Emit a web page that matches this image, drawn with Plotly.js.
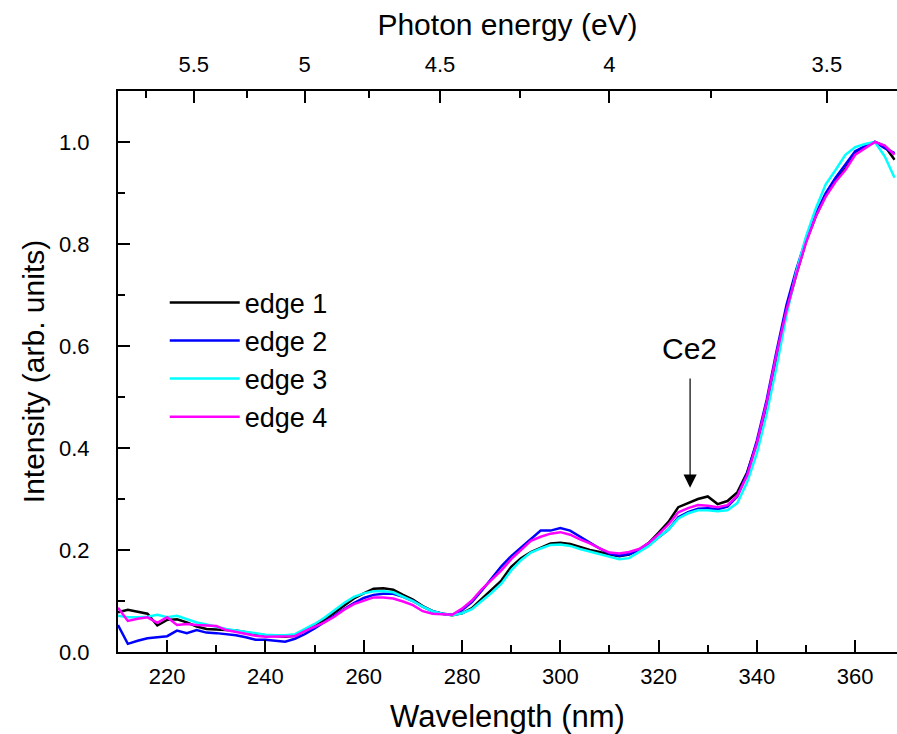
<!DOCTYPE html>
<html><head><meta charset="utf-8">
<script src="https://cdn.plot.ly/plotly-3.0.1.min.js"></script>
<style>html,body{margin:0;padding:0;background:#fff}#chart{width:897px;height:734px}</style>
</head><body><div id="chart"></div>
<script>
const wavelength = [210,212,214,216,218,220,222,224,226,228,230,232,234,236,238,240,242,244,246,248,
250,252,254,256,258,260,262,264,266,268,270,272,274,276,278,280,282,284,286,288,
290,292,294,296,298,300,302,304,306,308,310,312,314,316,318,320,322,324,326,328,
330,332,334,336,338,340,342,344,346,348,350,352,354,356,358,360,362,364,366,368];

const edge1 = [0.078,0.083,0.079,0.075,0.052,0.063,0.064,0.058,0.050,0.045,0.044,0.043,0.042,0.039,0.035,0.033,0.031,0.030,0.032,0.041,
0.051,0.063,0.077,0.091,0.105,0.115,0.124,0.125,0.122,0.112,0.103,0.090,0.080,0.075,0.072,0.076,0.086,0.104,0.122,0.140,
0.167,0.184,0.196,0.205,0.213,0.214,0.212,0.206,0.200,0.196,0.191,0.188,0.191,0.200,0.214,0.234,0.255,0.284,0.292,0.300,
0.305,0.290,0.296,0.313,0.352,0.410,0.482,0.575,0.668,0.740,0.805,0.855,0.895,0.925,0.948,0.980,0.990,1.000,0.992,0.965];

const edge2 = [0.053,0.016,0.022,0.027,0.029,0.031,0.042,0.037,0.043,0.038,0.037,0.035,0.033,0.029,0.024,0.024,0.022,0.020,0.026,0.035,
0.046,0.058,0.071,0.084,0.096,0.106,0.112,0.114,0.114,0.108,0.100,0.089,0.080,0.075,0.073,0.082,0.098,0.120,0.145,0.168,
0.188,0.205,0.222,0.238,0.238,0.243,0.238,0.226,0.215,0.203,0.193,0.189,0.192,0.200,0.210,0.225,0.240,0.264,0.274,0.281,
0.282,0.280,0.285,0.305,0.350,0.415,0.495,0.590,0.680,0.750,0.810,0.860,0.900,0.930,0.955,0.982,0.992,1.000,0.988,0.978];

const edge3 = [0.071,0.068,0.068,0.069,0.073,0.068,0.071,0.065,0.058,0.054,0.049,0.045,0.042,0.039,0.036,0.034,0.033,0.033,0.035,0.045,
0.055,0.067,0.081,0.096,0.108,0.115,0.119,0.119,0.117,0.109,0.100,0.089,0.080,0.075,0.072,0.076,0.084,0.100,0.116,0.134,
0.160,0.180,0.195,0.203,0.210,0.211,0.208,0.202,0.197,0.192,0.187,0.182,0.184,0.196,0.208,0.225,0.240,0.262,0.272,0.278,
0.278,0.276,0.278,0.292,0.333,0.390,0.468,0.560,0.660,0.745,0.815,0.870,0.917,0.945,0.975,0.990,0.996,1.000,0.972,0.930];

const edge4 = [0.087,0.061,0.065,0.068,0.057,0.068,0.053,0.055,0.053,0.052,0.051,0.043,0.039,0.036,0.032,0.030,0.030,0.030,0.031,0.041,
0.049,0.058,0.069,0.083,0.094,0.101,0.107,0.107,0.105,0.099,0.092,0.080,0.075,0.074,0.073,0.085,0.101,0.123,0.141,0.160,
0.182,0.200,0.218,0.226,0.232,0.235,0.230,0.221,0.213,0.203,0.195,0.193,0.196,0.202,0.214,0.231,0.250,0.274,0.282,0.288,
0.287,0.284,0.288,0.306,0.346,0.410,0.490,0.585,0.670,0.740,0.803,0.855,0.893,0.922,0.945,0.975,0.988,1.000,0.993,0.975];

const seriesNames = ['edge 1','edge 2','edge 3','edge 4'];
const seriesColors = ['#000000','#0000ff','#00ffff','#ff00ff'];

const wavelengthTicks = [220,240,260,280,300,320,340,360];
const wavelengthMinor = [230,250,270,290,310,330,350];
const intensityTicks = [0,0.2,0.4,0.6,0.8,1.0];
const intensityMinor = [0.1,0.3,0.5,0.7,0.9,1.1];
const energyTicks = [5.5,5,4.5,4,3.5];
const energyTickText = ['5.5','5','4.5','4','3.5'];
const energyMinor = [5.75,5.25,4.75,4.25,3.75];
const HC = 1239.84; // eV*nm

const xRange = [210, 368.5];
const yRange = [0, 1.1];

const FONT = 'Liberation Sans, Arial, Helvetica, sans-serif';

const allSeries = [edge1, edge2, edge3, edge4];
const traces = allSeries.map((ys, i) => ({
  type: 'scatter', mode: 'lines',
  x: wavelength, y: ys,
  name: seriesNames[i],
  line: {color: seriesColors[i], width: 2.5},
  xaxis: 'x', yaxis: 'y'
}));
// invisible host traces for the extra axes (top energy axis and minor-tick axes)
['x2','x3','x4'].forEach(ax => traces.push({type:'scatter', mode:'lines', x:[xRange[0], xRange[1]], y:[null,null],
  xaxis:ax, yaxis:'y', showlegend:false, hoverinfo:'skip'}));
traces.push({type:'scatter', mode:'lines', x:[null,null], y:[yRange[0], yRange[1]],
  xaxis:'x', yaxis:'y2', showlegend:false, hoverinfo:'skip'});

const tickStyle = {ticks:'inside', tickwidth: 2, tickcolor:'#000', showgrid:false, zeroline:false};
const MAJOR = 12, MINOR = 7;

const layout = {
  width: 897, height: 734,
  margin: {l:118, r:0, t:91, b:82},
  paper_bgcolor:'#fff', plot_bgcolor:'#fff',
  font: {family: FONT, color:'#000', size: 22},
  showlegend: true,
  legend: {x: 0.06, y: 0.666, xanchor:'left', yanchor:'top',
    font:{family:FONT, size:27, color:'#000'}, bgcolor:'rgba(0,0,0,0)',
    itemwidth: 70, tracegroupgap: 0},
  xaxis: Object.assign({
    range: xRange, autorange:false,
    tickmode:'array', tickvals: wavelengthTicks, ticktext: wavelengthTicks.map(String),
    ticklen: MAJOR,
    showline:true, linewidth:2, linecolor:'#000', mirror:false,
    tickfont:{family:FONT, size:22, color:'#000'},
    ticklabelstandoff: 4,
    title:{text:'Wavelength (nm)', font:{family:FONT, size:31, color:'#000'}, standoff: 18}
  }, tickStyle),
  xaxis3: Object.assign({
    overlaying:'x', side:'bottom', anchor:'y',
    range: xRange, autorange:false,
    tickmode:'array', tickvals: wavelengthMinor, ticklen: MINOR,
    showticklabels:false, showline:false
  }, tickStyle),
  xaxis2: Object.assign({
    overlaying:'x', side:'top', anchor:'y',
    range: xRange, autorange:false,
    tickmode:'array', tickvals: energyTicks.map(e => HC/e), ticktext: energyTickText,
    ticklen: MAJOR,
    showline:true, linewidth:2, linecolor:'#000',
    tickfont:{family:FONT, size:22, color:'#000'},
    ticklabelstandoff: 8,
    title:{text:'Photon energy (eV)', font:{family:FONT, size:30, color:'#000'}, standoff: 8}
  }, tickStyle),
  xaxis4: Object.assign({
    overlaying:'x', side:'top', anchor:'y',
    range: xRange, autorange:false,
    tickmode:'array', tickvals: energyMinor.map(e => HC/e), ticklen: MINOR,
    showticklabels:false, showline:false
  }, tickStyle),
  yaxis: Object.assign({
    range: yRange, autorange:false,
    tickmode:'array', tickvals: intensityTicks, ticktext: intensityTicks.map(v => v.toFixed(1)),
    ticklen: MAJOR,
    showline:true, linewidth:2, linecolor:'#000', mirror:false,
    tickfont:{family:FONT, size:22, color:'#000'},
    ticklabelstandoff: 22,
    title:{text:'Intensity (arb. units)', font:{family:FONT, size:30, color:'#000'}, standoff: 6}
  }, tickStyle),
  yaxis2: Object.assign({
    overlaying:'y', side:'left', anchor:'x',
    range: yRange, autorange:false,
    tickmode:'array', tickvals: intensityMinor, ticklen: MINOR,
    showticklabels:false, showline:false
  }, tickStyle),
  annotations: [
    {x: 326.4, y: 0.322, ax: 326.4, ay: 0.539, xref:'x', yref:'y', axref:'x', ayref:'y',
     text:'', showarrow:true, arrowhead:2, arrowsize:2.2, arrowwidth:1.2, arrowcolor:'#000', standoff:0},
    {x: 326.2, y: 0.596, xref:'x', yref:'y', text:'Ce2', showarrow:false,
     font:{family:FONT, size:30, color:'#000'}}
  ]
};

Plotly.newPlot('chart', traces, layout, {displayModeBar:false, staticPlot:true});
</script>
</body></html>
